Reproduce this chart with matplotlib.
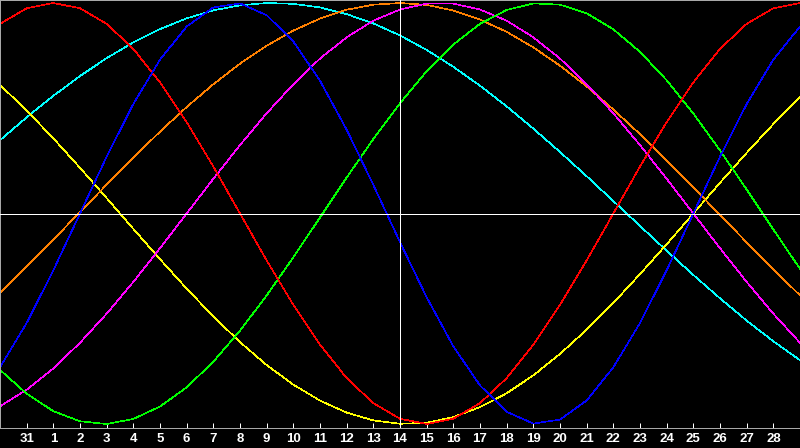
import numpy as np
import matplotlib
matplotlib.use('Agg')
from matplotlib import pyplot as plt

# day labels under the ticks (first point = 30th of previous month, off the left edge)
day_labels = ['31'] + [str(d) for d in range(1, 29)]
today_index = 15  # day 14

# one value per day, from the 30th to the 29th
red = [0.901, 0.975, 1.000, 0.975, 0.901, 0.782, 0.623, 0.434, 0.223, 0.000,
       -0.223, -0.434, -0.623, -0.782, -0.901, -0.975, -1.000, -0.975, -0.901, -0.782,
       -0.623, -0.434, -0.223, 0.000, 0.223, 0.434, 0.623, 0.782, 0.901, 0.975, 1.000]
blue = [-0.731, -0.520, -0.270, 0.000, 0.270, 0.520, 0.731, 0.888, 0.979, 0.998,
        0.942, 0.817, 0.631, 0.398, 0.136, -0.136, -0.398, -0.631, -0.817, -0.942,
        -0.998, -0.979, -0.888, -0.731, -0.520, -0.270, 0.000, 0.270, 0.520, 0.731, 0.888]
green = [-0.743, -0.856, -0.939, -0.987, -1.000, -0.976, -0.917, -0.826, -0.704, -0.557,
         -0.389, -0.208, -0.019, 0.171, 0.354, 0.524, 0.676, 0.803, 0.901, 0.967,
         0.998, 0.992, 0.951, 0.875, 0.768, 0.633, 0.475, 0.300, 0.114, -0.076, -0.263]
yellow = [0.611, 0.489, 0.357, 0.217, 0.073, -0.073, -0.217, -0.357, -0.489, -0.611,
          -0.720, -0.813, -0.889, -0.946, -0.983, -0.999, -0.994, -0.967, -0.920, -0.854,
          -0.769, -0.667, -0.552, -0.425, -0.288, -0.146, 0.000, 0.146, 0.288, 0.425, 0.552]
cyan = [0.348, 0.457, 0.559, 0.653, 0.738, 0.813, 0.876, 0.927, 0.965, 0.989,
        1.000, 0.996, 0.979, 0.947, 0.903, 0.846, 0.777, 0.697, 0.607, 0.509,
        0.403, 0.292, 0.177, 0.059, -0.059, -0.177, -0.292, -0.403, -0.509, -0.607, -0.697]
orange = [-0.377, -0.252, -0.124, 0.007, 0.137, 0.265, 0.389, 0.506, 0.614, 0.712,
          0.797, 0.869, 0.926, 0.968, 0.992, 1.000, 0.991, 0.964, 0.921, 0.863,
          0.789, 0.702, 0.604, 0.494, 0.377, 0.252, 0.124, -0.007, -0.137, -0.265, -0.389]
magenta = [-0.916, -0.837, -0.736, -0.614, -0.476, -0.325, -0.165, 0.000, 0.165, 0.325,
           0.476, 0.614, 0.736, 0.837, 0.916, 0.969, 0.997, 0.997, 0.969, 0.916,
           0.837, 0.736, 0.614, 0.476, 0.325, 0.165, 0.000, -0.165, -0.325, -0.476, -0.614]

series = [
    (cyan, '#00ffff'),
    (yellow, '#ffff00'),
    (orange, '#ff8000'),
    (magenta, '#ff00ff'),
    (green, '#00ff00'),
    (red, '#ff0000'),
    (blue, '#0000ff'),
]

GRAY = '#a8a8a8'
LW = 0.72  # 1 px

fig = plt.figure(figsize=(8, 4.48), dpi=100, facecolor='black')
ax = fig.add_axes([0, 20 / 448, 1, 428 / 448])
ax.set_facecolor('black')

x = np.arange(len(red))
for vals, col in series:
    ax.plot(x, vals, color=col, lw=0.45, antialiased=False)

# centre line and today marker
ax.axhline(0, color='white', lw=LW, antialiased=False, zorder=5)
ax.axvline(today_index, color='white', lw=LW, antialiased=False, zorder=5)

ax.set_xlim(0, 30)
ax.set_ylim(-214.5 / 210.5, 213.5 / 210.5)

ax.set_xticks(np.arange(1, 30))
ax.set_xticklabels(day_labels, family='Liberation Sans', weight='bold', fontsize=9.5)
ax.tick_params(axis='x', direction='in', length=3.6, width=LW, color='white',
               labelcolor='white', pad=3.5)
ax.set_yticks([])

for s in ['left', 'top', 'bottom']:
    ax.spines[s].set_color(GRAY)
    ax.spines[s].set_linewidth(LW)
ax.spines['right'].set_visible(False)

fig.savefig('out.png', dpi=100, facecolor='black')
